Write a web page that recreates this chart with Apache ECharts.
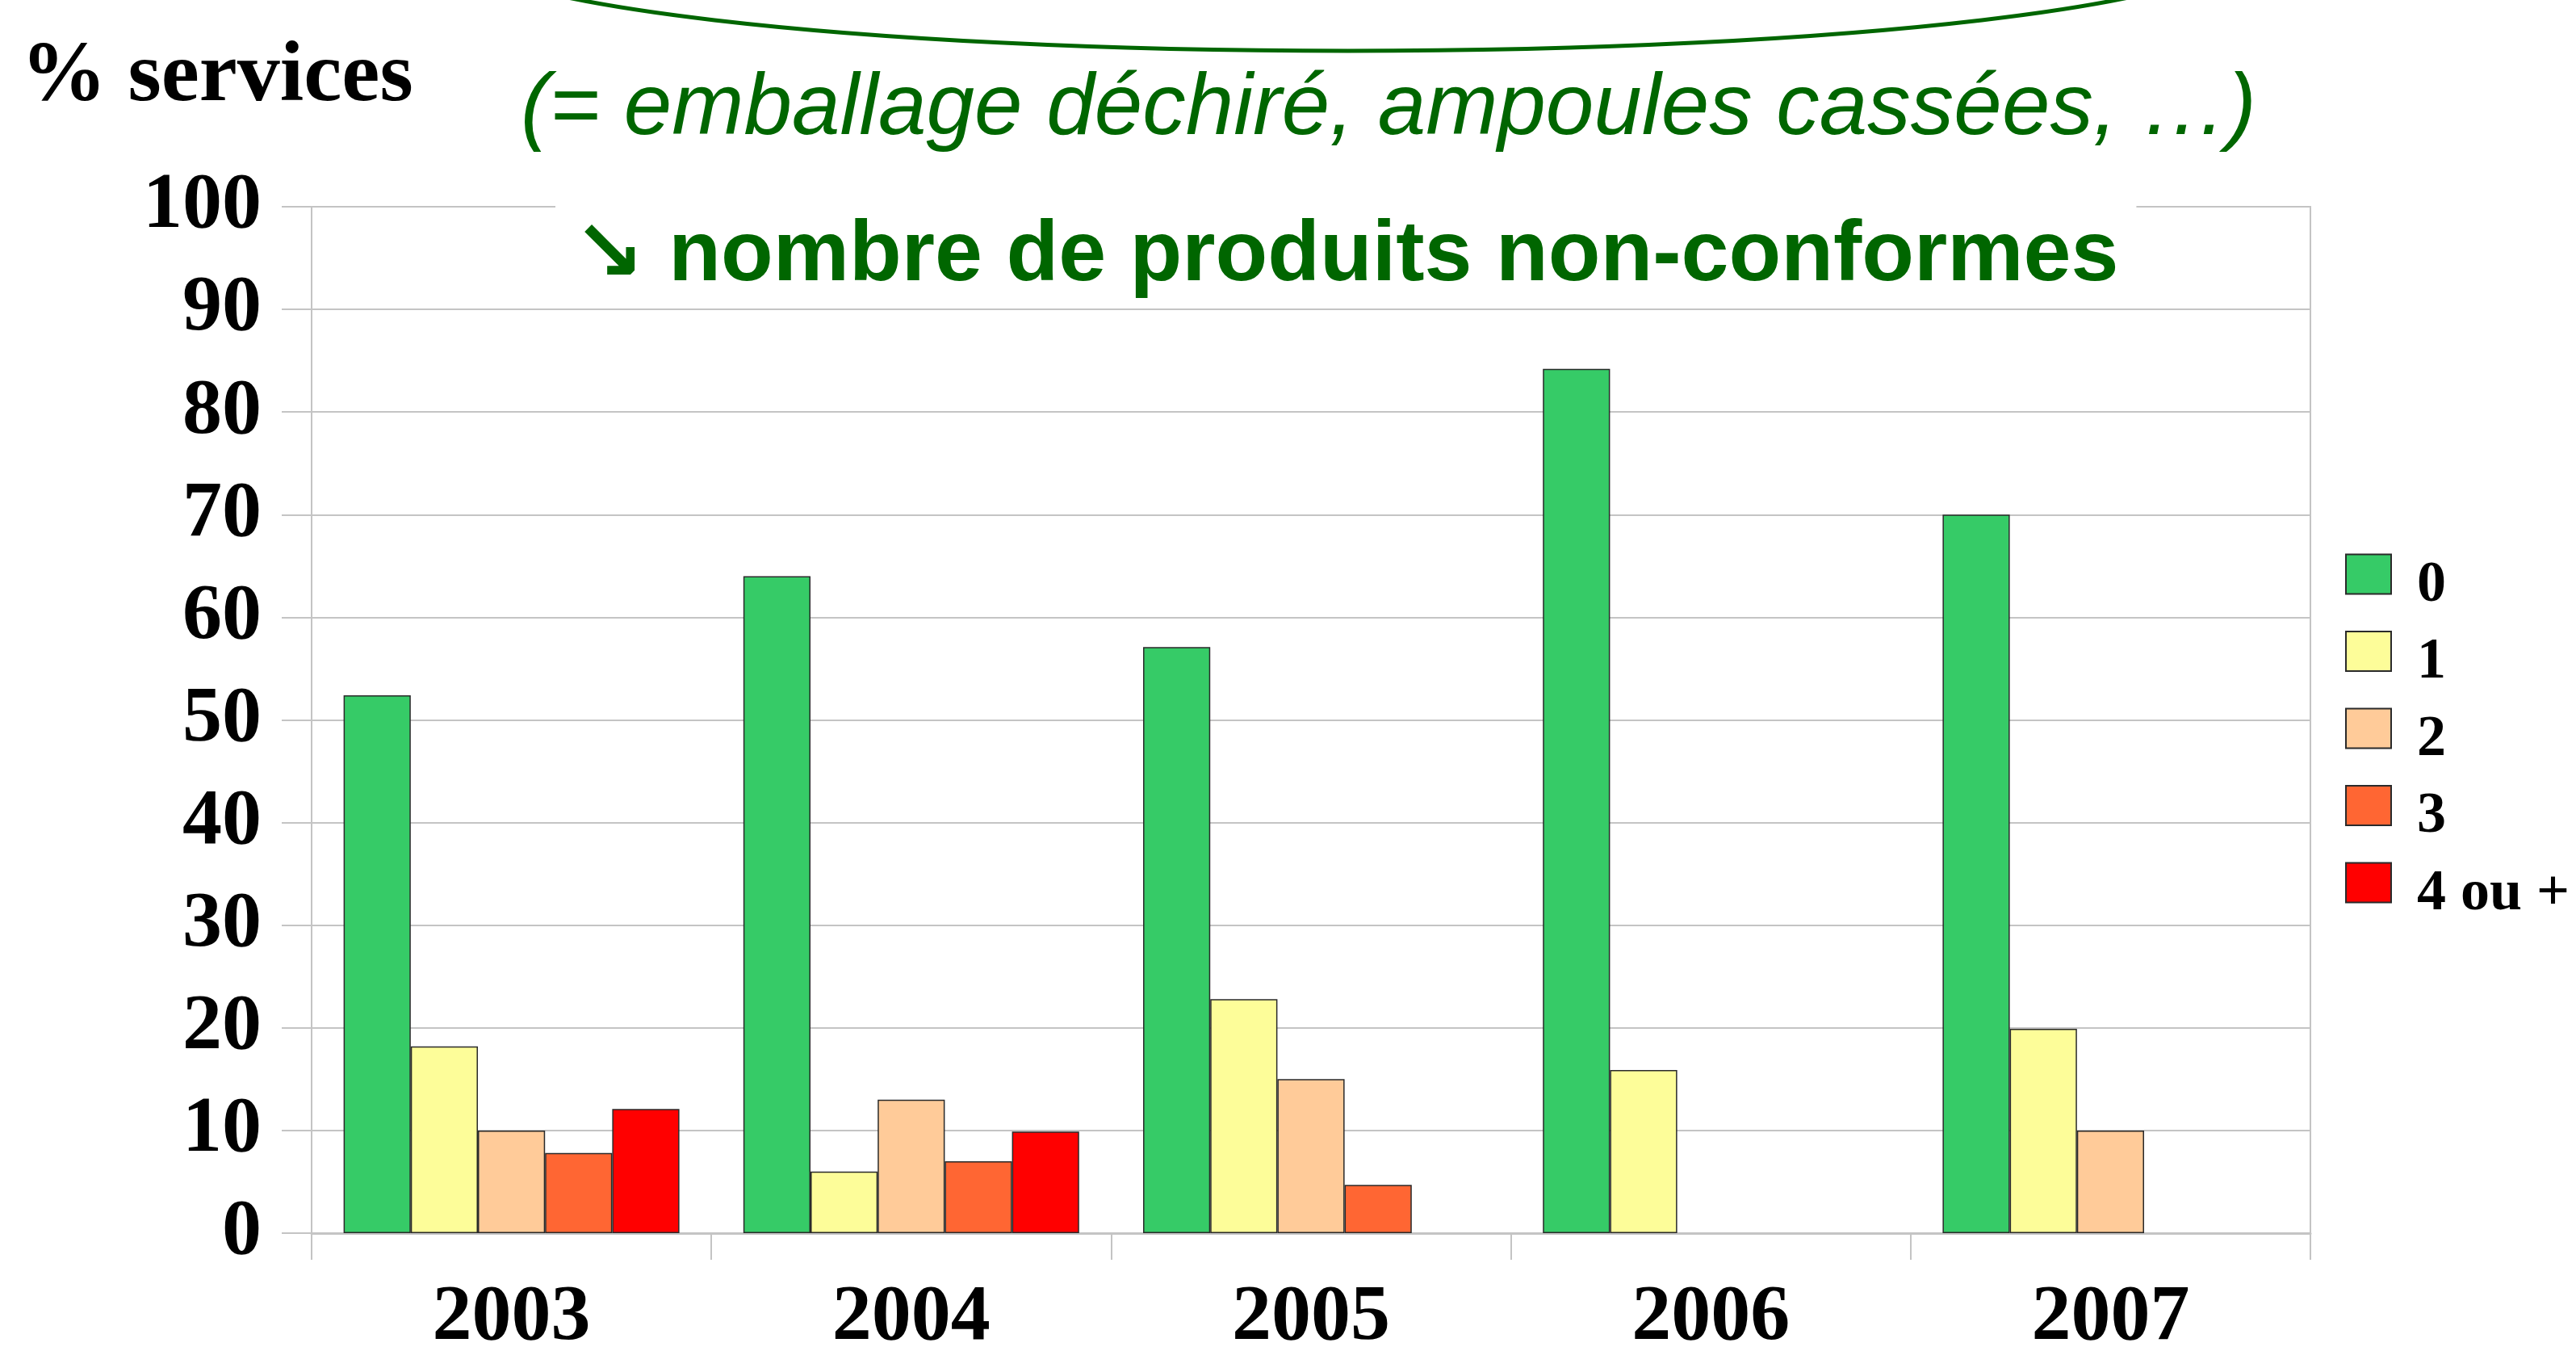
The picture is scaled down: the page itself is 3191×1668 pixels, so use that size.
<!DOCTYPE html>
<html lang="fr">
<head>
    <meta charset="UTF-8">
    <title>produits non-conformes</title>
    <script src="https://cdn.jsdelivr.net/npm/echarts@6/dist/echarts.min.js"></script>
    <style>
        html, body { margin: 0; padding: 0; background: #fff; }
        #c { width: 3191px; height: 1668px; }
    </style>
</head>
<body>
<div id="c"></div>
<script type="text/javascript">
// années
var years = ['2003', '2004', '2005', '2006', '2007'];
// nombre de produits non-conformes par service (%)
var names = ['0', '1', '2', '3', '4 ou +'];
var zero = [52.4, 64, 57.1, 84.2, 70];
var one = [18.2, 6, 22.8, 15.9, 19.9];
var two = [10, 13, 15, null, 10];
var three = [7.8, 7, 4.7, null, null];
var fourPlus = [12.1, 9.9, null, null, null];
var colors = ['#36CB67', '#FDFD99', '#FFCB99', '#FF6633', '#FF0000'];

var serif = '"Liberation Serif", "Times New Roman", serif';
var sans = '"Liberation Sans", Arial, "DejaVu Sans", sans-serif';
var green = '#006600';
var grey = '#c4c4c4';

var chart = echarts.init(document.getElementById('c'));

function bar(i, values) {
    return {
        name: names[i],
        type: 'bar',
        data: values,
        barGap: 0,
        barCategoryGap: '16%',
        itemStyle: { color: colors[i], borderColor: '#2a2a2a', borderWidth: 1.5 }
    };
}

var option = {
    animation: false,
    backgroundColor: '#fff',
    title: [{
        text: '% services',
        left: 26, top: 40, padding: 0,
        textStyle: { fontFamily: serif, fontWeight: 'bold', fontSize: 106, lineHeight: 114, color: '#000' }
    }, {
        text: '(= emballage déchiré, ampoules cassées, …)',
        left: 645, top: 76, padding: 0,
        textStyle: { fontFamily: sans, fontStyle: 'italic', fontWeight: 'normal', fontSize: 107, lineHeight: 120, color: green }
    }, {
        text: '↘ nombre de produits non-conformes',
        left: 688, top: 250,
        padding: [8, 22, 4, 22],
        backgroundColor: '#fff',
        textStyle: { fontFamily: sans, fontWeight: 'bold', fontSize: 106, lineHeight: 120, color: green }
    }],
    graphic: [{
        type: 'ellipse',
        shape: { cx: 1670, cy: -67, rx: 1110, ry: 130 },
        style: { fill: 'none', stroke: green, lineWidth: 5 },
        silent: true
    }],
    legend: {
        orient: 'vertical',
        left: 2905, top: 661,
        padding: 0,
        itemWidth: 56, itemHeight: 49, itemGap: -4.5,
        icon: 'rect',
        formatter: '{t|{name}}',
        textStyle: {
            color: '#000',
            rich: {
                t: { fontFamily: serif, fontWeight: 'bold', fontSize: 72, lineHeight: 49, color: '#000', padding: [28, 0, 0, 27] }
            }
        },
        data: names
    },
    grid: {
        left: 386, right: 329, top: 256, bottom: 141,
        outerBoundsMode: 'none',
        show: true, borderColor: grey, borderWidth: 2
    },
    xAxis: {
        type: 'category',
        data: years,
        axisLine: { lineStyle: { color: grey, width: 3 } },
        axisTick: { show: true, length: 33, lineStyle: { color: grey, width: 2 } },
        axisLabel: { margin: 57, fontFamily: serif, fontWeight: 'bold', fontSize: 98, color: '#000' }
    },
    yAxis: {
        type: 'value',
        min: 0, max: 100, interval: 10,
        axisLine: { show: true, lineStyle: { color: grey, width: 2 } },
        axisTick: { show: true, length: 37, lineStyle: { color: grey, width: 2 } },
        splitLine: { lineStyle: { color: grey, width: 2 } },
        axisLabel: { margin: 62, fontFamily: serif, fontWeight: 'bold', fontSize: 98, color: '#000' }
    },
    series: [bar(0, zero), bar(1, one), bar(2, two), bar(3, three), bar(4, fourPlus)]
};

chart.setOption(option);
</script>
</body>
</html>
